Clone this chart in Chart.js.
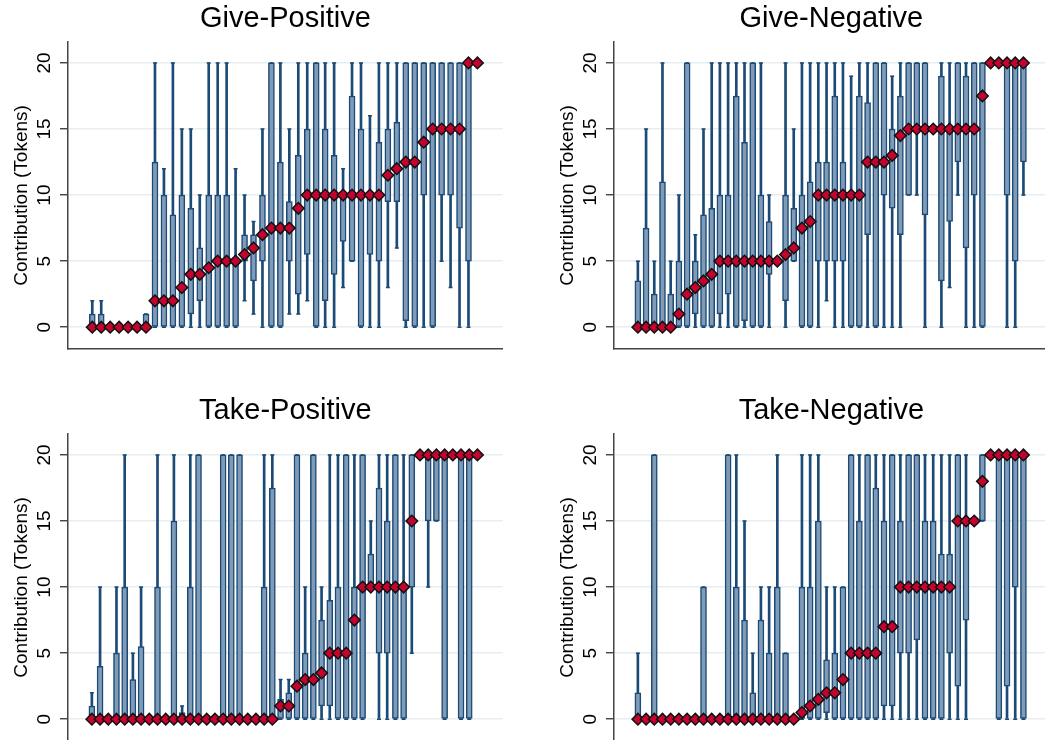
<!DOCTYPE html>
<html>
<head>
<meta charset="utf-8">
<script src="https://cdn.jsdelivr.net/npm/chart.js@4.4.0/dist/chart.umd.min.js"></script>
<style>
  html, body { margin: 0; padding: 0; background: #fff; overflow: hidden; }
  #wrap { position: relative; width: 1045px; height: 740px; overflow: hidden; }
  canvas { position: absolute; }
</style>
</head>
<body>
<div id="wrap">
  <canvas id="gp" width="510" height="369" style="left:0;top:0"></canvas>
  <canvas id="gn" width="510" height="369" style="left:546px;top:0"></canvas>
  <canvas id="tp" width="510" height="369" style="left:0;top:392px"></canvas>
  <canvas id="tn" width="510" height="369" style="left:546px;top:392px"></canvas>
</div>
<script>
// y ticks shared by all panels
const yTicks = [0, 5, 10, 15, 20];

// Give-Positive (44 groups): min, q1, median, q3, max
const gpMin = [0,0,0,0,0,0,0,0,0,0,0,0,0,0,0,0,0,2,1,0,0,0,1,1,2,0,0,0,3,5,0,0,0,3,6,0,0,0,0,5,3,0,0,20];
const gpQ1  = [0,0,0,0,0,0,0,0,0,0,0,1,2,0,0,0,0,5,3.5,5,0,0,5,2.5,5.5,0,2,4,6.5,5,0,5.5,5,9.5,9.5,0.5,0,10,0,10,10,7.5,5,20];
const gpMed = [0,0,0,0,0,0,0,2,2,2,3,4,4,4.5,5,5,5,5.5,6,7,7.5,7.5,7.5,9,10,10,10,10,10,10,10,10,10,11.5,12,12.5,12.5,14,15,15,15,15,20,20];
const gpQ3  = [1,1,0,0,0,0,1,12.5,10,8.5,10,9,6,10,10,10,5,7,7,10,20,12.5,9.5,13,15,20,15,13,10,17.5,15,10,14,15,15.5,20,20,20,20,20,20,20,20,20];
const gpMax = [2,2,0,0,0,0,1,20,12,20,15,15,10,20,20,20,12,10,8,15,20,20,15,20,20,20,20,20,12,20,20,16,20,20,20,20,20,20,20,20,20,20,20,20];

// Give-Negative (48 groups)
const gnMin = [0,0,0,0,0,0,0,0,0,0,0,0,0,0,0,0,0,5,0,5,0,0,0,2,0,0,0,0,0,0,0,0,0,10,10,0,15,0,3,10,0,0,0,20,20,0,0,10];
const gnQ1  = [0,0,0,0,0,0,0,1,0,0,1,2.5,0,0.5,0,0,4,5,2,5,0,0,5,5,5,5,0,0,7,0,10,9,7,10,15,8.5,15,3.5,8,12.5,6,10,0,20,20,10,5,12.5];
const gnMed = [0,0,0,0,0,1,2.5,3,3.5,4,5,5,5,5,5,5,5,5,5.5,6,7.5,8,10,10,10,10,10,10,12.5,12.5,12.5,13,14.5,15,15,15,15,15,15,15,15,15,17.5,20,20,20,20,20];
const gnQ3  = [3.5,7.5,2.5,11,2.5,5,20,5,8.5,9,10,10,17.5,14,20,10,8,5,10,9,10,11,12.5,12.5,17.5,12.5,10,17.5,17,20,20,15,17.5,20,20,20,15,19,15,20,19,20,20,20,20,20,20,20];
const gnMax = [5,15,5,20,5,10,20,7,15,20,20,20,20,20,20,20,10,5,20,15,20,20,20,20,20,20,19,20,20,20,20,19,20,20,20,20,15,20,20,20,20,20,20,20,20,20,20,20];

// Take-Positive (48 groups)
const tpMin = [0,0,0,0,0,0,0,0,0,0,0,0,0,0,0,0,0,0,0,0,0,0,0,0,0,0,0,0,0,0,0,0,0,0,10,0,0,0,0,5,20,10,15,0,20,0,0,20];
const tpQ1  = [0,0,0,0,0,0,0,0,0,0,0,0,0,0,0,0,0,0,0,0,0,0,0,0,0,0,0,0,1,1,0,0,0,0,10,5,5,0,0,10,20,15,15,0,20,0,0,20];
const tpMed = [0,0,0,0,0,0,0,0,0,0,0,0,0,0,0,0,0,0,0,0,0,0,0,1,1,2.5,3,3,3.5,5,5,5,7.5,10,10,10,10,10,10,15,20,20,20,20,20,20,20,20];
const tpQ3  = [1,4,0,5,10,3,5.5,0,10,0,15,0.5,10,20,0,0,20,20,20,0,0,10,17.5,1.5,2,20,5,20,7.5,9,10,20,10,20,12.5,17.5,15,20,10,20,20,20,20,20,20,20,20,20];
const tpMax = [2,10,0,10,20,5,10,0,20,0,20,1,20,20,0,0,20,20,20,0,0,20,20,3,3,20,10,20,10,20,20,20,20,20,15,20,20,20,20,20,20,20,20,20,20,20,20,20];

// Take-Negative (48 groups)
const tnMin = [0,0,0,0,0,0,0,0,0,0,0,0,0,0,0,0,0,0,0,0,0,0,0,0,0,0,0,0,0,0,0,0,0,0,0,0,0,0,0,0,0,15,15,20,0,0,0,0];
const tnQ1  = [0,0,0,0,0,0,0,0,0,0,0,0,0,0,0,0,0,0,0,0,0,0,0,0.5,0,0,0,0,0,0,1,1,5,5,6,0,0,0,5,2.5,7.5,15,15,20,0,2.5,10,0];
const tnMed = [0,0,0,0,0,0,0,0,0,0,0,0,0,0,0,0,0,0,0,0,0.5,1,1.5,2,2,3,5,5,5,5,7,7,10,10,10,10,10,10,10,15,15,15,18,20,20,20,20,20];
const tnQ3  = [2,0,20,0,0,0,0,0,10,0,0,20,10,7.5,2,7.5,5,10,5,0,10,10,15,4.5,5,10,20,15,20,17.5,15,20,15,20,20,15,15,12.5,12.5,20,15,15,20,20,20,20,20,20];
const tnMax = [5,0,20,0,0,0,0,0,10,0,0,20,20,15,5,10,10,20,5,0,20,20,20,10,10,10,20,20,20,20,20,20,20,20,20,20,20,20,20,20,20,15,20,20,20,20,20,20];

const NAVY = '#1a4a75';
const BOXFILL = '#7f9bb8';
const MEDFILL = '#c4042f';

Chart.defaults.font.family = '"Liberation Sans", Arial, sans-serif';
Chart.defaults.color = '#000';

function makePanel(id, title, xMin, xMax, mins, q1s, meds, q3s, maxs) {
    const medPts = [], boxes = [], whiskers = [], caps = [];
    for (let i = 0; i < meds.length; i++) {
        const x = i + 1;
        medPts.push({x: x, y: meds[i]});
        if (q3s[i] > q1s[i]) boxes.push({x: x, y: [q1s[i], q3s[i]]});
        if (maxs[i] > mins[i]) {
            whiskers.push({x: x, y: [mins[i], maxs[i]]});
            caps.push({x: x, y: mins[i]}, {x: x, y: maxs[i]});
        }
    }

    new Chart(document.getElementById(id), {
        type: 'bar',
        data: {
            datasets: [
                {
                    type: 'scatter',
                    data: medPts,
                    pointStyle: 'rectRot',
                    pointRadius: 5.8,
                    pointBackgroundColor: MEDFILL,
                    pointBorderColor: '#111',
                    pointBorderWidth: 1.5,
                    order: 0
                },
                {
                    type: 'bar',
                    data: boxes,
                    barThickness: 6,
                    grouped: false,
                    backgroundColor: BOXFILL,
                    borderColor: NAVY,
                    borderWidth: 1.5,
                    borderSkipped: false,
                    order: 1
                },
                {
                    type: 'scatter',
                    data: caps,
                    pointStyle: 'line',
                    pointRadius: 2,
                    pointBorderColor: NAVY,
                    pointBorderWidth: 1.5,
                    order: 2
                },
                {
                    type: 'bar',
                    data: whiskers,
                    barThickness: 2,
                    grouped: false,
                    backgroundColor: NAVY,
                    borderWidth: 0,
                    order: 3
                }
            ]
        },
        options: {
            responsive: false,
            animation: false,
            devicePixelRatio: 1,
            layout: { padding: 0 },
            plugins: {
                legend: { display: false },
                tooltip: { enabled: false },
                title: {
                    display: true,
                    text: title,
                    fullSize: false,
                    font: { size: 29, weight: 'normal' },
                    color: '#000',
                    padding: { top: 2, bottom: 5 }
                }
            },
            scales: {
                x: {
                    type: 'linear',
                    min: xMin,
                    max: xMax,
                    offset: false,
                    ticks: { display: false },
                    grid: { display: false, offset: false },
                    border: { display: true, color: '#444', width: 1.5 },
                    afterFit: (s) => { s.height = 20; }
                },
                y: {
                    type: 'linear',
                    min: -1.65,
                    max: 21.6,
                    afterBuildTicks: (s) => { s.ticks = yTicks.map(v => ({value: v})); },
                    afterFit: (s) => { s.width = 68; },
                    ticks: {
                        font: { size: 19 },
                        color: '#000',
                        padding: 5,
                        minRotation: 90,
                        maxRotation: 90,
                        crossAlign: 'center'
                    },
                    grid: {
                        color: '#e6eef0',
                        lineWidth: 1.5,
                        tickColor: '#333',
                        tickWidth: 1.3,
                        tickLength: 8
                    },
                    border: { display: true, color: '#444', width: 1.5 },
                    title: {
                        display: true,
                        text: 'Contribution (Tokens)',
                        font: { size: 19 },
                        color: '#000',
                        padding: { top: 10, bottom: 0 }
                    }
                }
            }
        }
    });
}

makePanel('gp', 'Give-Positive', -1.71, 46.82, gpMin, gpQ1, gpMed, gpQ3, gpMax);
makePanel('gn', 'Give-Negative', -1.91, 51.08, gnMin, gnQ1, gnMed, gnQ3, gnMax);
makePanel('tp', 'Take-Positive', -1.91, 51.08, tpMin, tpQ1, tpMed, tpQ3, tpMax);
makePanel('tn', 'Take-Negative', -1.91, 51.08, tnMin, tnQ1, tnMed, tnQ3, tnMax);
</script>
</body>
</html>
